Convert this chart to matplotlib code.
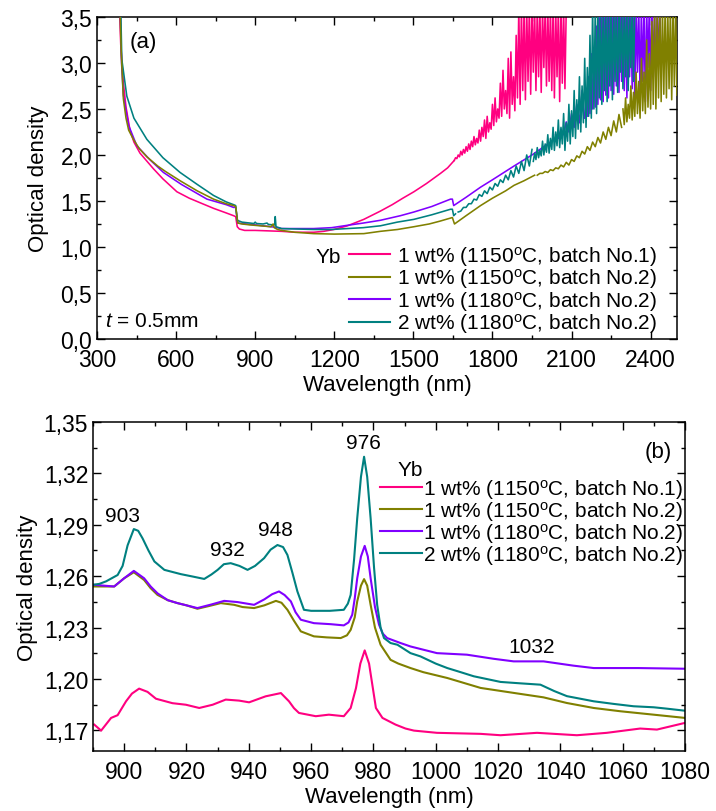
import numpy as np
import matplotlib
matplotlib.use("Agg")
import matplotlib.pyplot as plt
from matplotlib.ticker import MultipleLocator, FuncFormatter
from matplotlib.lines import Line2D

plt.rcParams['font.family'] = ['Liberation Sans', 'DejaVu Sans']
plt.rcParams['mathtext.fontset'] = 'custom'
plt.rcParams['mathtext.rm'] = 'Liberation Sans'
plt.rcParams['mathtext.it'] = 'Liberation Sans:italic'

# ---------------- colours / labels ----------------
series_names = ["1 wt% (1150$^{\\mathregular{o}}$C, batch No.1)",
                "1 wt% (1150$^{\\mathregular{o}}$C, batch No.2)",
                "1 wt% (1180$^{\\mathregular{o}}$C, batch No.2)",
                "2 wt% (1180$^{\\mathregular{o}}$C, batch No.2)"]
colors = ["#FF0080", "#808000", "#8000FF", "#008080"]

# ---------------- panel (a): smooth parts ----------------
a_pink_x = [385, 390, 395, 400, 410, 425, 440, 463, 490, 514, 550, 603, 650, 700, 742, 790, 818, 826,
            832, 840, 860, 900, 950, 1000, 1050, 1122, 1160, 1198, 1250, 1312, 1375, 1420, 1460, 1502,
            1550, 1603, 1630, 1655]
a_pink_y = [3.6, 3.2, 2.98, 2.78, 2.52, 2.27, 2.14, 2.02, 1.93, 1.85, 1.74, 1.60, 1.53, 1.47, 1.42, 1.37, 1.34, 1.33,
            1.22, 1.195, 1.18, 1.18, 1.175, 1.17, 1.16, 1.16, 1.17, 1.19, 1.23, 1.30, 1.39, 1.46, 1.53, 1.60,
            1.69, 1.80, 1.86, 1.94]

a_olive_x = [387, 392, 400, 410, 420, 438, 460, 489, 530, 560, 615, 680, 742, 790, 818, 826, 834, 850,
             880, 900, 940, 960, 968, 972, 985, 1000, 1050, 1122, 1200, 1312, 1375, 1440, 1502, 1560, 1600, 1648,
             1656, 1700, 1755, 1800, 1850, 1882, 1920, 1960]
a_olive_y = [3.6, 3.1, 2.61, 2.40, 2.27, 2.17, 2.07, 1.98, 1.88, 1.82, 1.72, 1.61, 1.52, 1.47, 1.45, 1.44, 1.26, 1.25,
             1.24, 1.235, 1.225, 1.22, 1.25, 1.21, 1.19, 1.18, 1.16, 1.145, 1.14, 1.145, 1.17, 1.19, 1.22, 1.25, 1.28, 1.32,
             1.25, 1.34, 1.45, 1.53, 1.61, 1.67, 1.72, 1.78]

a_purple_x = [388, 393, 400, 420, 451, 500, 552, 620, 717, 790, 818, 826, 834, 880, 900, 945, 975, 1000,
              1122, 1190, 1249, 1310, 1375, 1451, 1502, 1570, 1641, 1648, 1653, 1700, 1755, 1800, 1882, 1950, 2030]
a_purple_y = [3.6, 3.0, 2.65, 2.32, 2.10, 1.95, 1.81, 1.68, 1.52, 1.46, 1.43, 1.43, 1.26, 1.245, 1.24, 1.225, 1.215, 1.20,
              1.20, 1.21, 1.235, 1.26, 1.29, 1.34, 1.38, 1.44, 1.52, 1.52, 1.45, 1.54, 1.65, 1.73, 1.88, 2.00, 2.16]

a_teal_x = [390, 394, 413, 440, 489, 550, 615, 680, 742, 790, 818, 826, 832, 850, 880, 895, 900, 905,
            930, 945, 950, 970, 974, 976, 979, 990, 1000, 1122, 1190, 1249, 1310, 1375, 1439, 1502, 1570, 1641,
            1648, 1653, 1660]
a_teal_y = [3.6, 3.04, 2.64, 2.40, 2.17, 1.97, 1.81, 1.68, 1.56, 1.49, 1.46, 1.45, 1.29, 1.27, 1.26, 1.255, 1.27, 1.255,
            1.25, 1.26, 1.245, 1.24, 1.24, 1.33, 1.22, 1.21, 1.20, 1.19, 1.19, 1.20, 1.21, 1.23, 1.27, 1.30, 1.35, 1.41,
            1.41, 1.34, 1.36]

# ---------------- panel (a): noisy long-wavelength parts (read as zig-zag values) ----------------
a_pink_noise_start, a_pink_noise_step = 1655, 5
a_pink_noise_y = [1.94, 1.97, 1.96, 2.00, 1.98, 2.04, 2.00, 2.06, 2.02, 2.09, 2.04, 2.12, 2.06, 2.15, 2.09,
                  2.20, 2.11, 2.18, 2.13, 2.27, 2.15, 2.30, 2.20, 2.38, 2.18, 2.42, 2.25, 2.35, 2.28, 2.55,
                  2.32, 2.62, 2.36, 2.50, 2.40, 2.78, 2.42, 2.92, 2.50, 2.70, 2.45, 3.05, 2.40, 3.12, 2.55,
                  2.85, 2.48, 3.30, 2.62, 3.60, 2.55, 3.60, 2.70, 3.60, 2.60, 3.60, 2.80, 3.60, 2.66, 3.60,
                  2.90, 3.60, 2.70, 3.60, 2.85, 3.60, 2.68, 3.60, 2.95, 3.60, 2.75, 3.60, 2.80, 3.60, 2.70,
                  3.60, 2.62, 3.60, 2.85, 3.60, 2.58, 3.60, 2.78, 3.60, 2.72, 3.60]

a_teal_noise1_start, a_teal_noise1_step = 1670, 10
a_teal_noise1_y = [1.38, 1.39, 1.43, 1.43, 1.47, 1.47, 1.52, 1.51, 1.57, 1.55, 1.61, 1.58, 1.65, 1.62,
                   1.69, 1.66, 1.73, 1.70, 1.78, 1.73, 1.83, 1.76, 1.88, 1.80, 1.93, 1.83, 2.00, 1.88, 2.06]
a_teal_noise2_start, a_teal_noise2_step = 1955, 5
a_teal_noise2_y = [1.93, 2.02, 1.95, 2.08, 1.97, 2.05, 1.99, 2.15, 2.00, 2.12, 2.03, 2.22, 2.02, 2.18, 2.06,
                   2.30, 2.05, 2.25, 2.10, 2.38, 2.08, 2.30, 2.12, 2.45, 2.05, 2.35, 2.15, 2.55, 2.12, 2.48,
                   2.20, 2.70, 2.18, 2.60, 2.28, 2.85, 2.25, 2.75, 2.35, 3.05, 2.30, 2.95, 2.42, 3.30, 2.40,
                   3.60, 2.50, 3.60, 2.45, 3.60, 2.62, 3.60, 2.55, 3.60, 2.70, 3.60, 2.58, 3.60, 2.75, 3.60,
                   2.60, 3.60, 2.80, 3.60, 2.68, 3.60, 2.90, 3.60, 2.72, 3.60, 2.85, 3.60, 2.70, 3.60, 2.95,
                   3.60, 2.80, 3.60]

a_purple_noise1_start, a_purple_noise1_step = 2040, 10
a_purple_noise1_y = [2.22, 2.18, 2.28, 2.22, 2.36, 2.25, 2.45, 2.30, 2.55, 2.35, 2.70, 2.40]
a_purple_noise2_start, a_purple_noise2_step = 2155, 5
a_purple_noise2_y = [2.62, 2.42, 2.85, 2.45, 3.10, 2.50, 2.95, 2.52, 3.40, 2.55, 3.60, 2.60, 3.60, 2.58, 3.60,
                     2.65, 3.60, 2.62, 3.60, 2.70, 3.60, 2.66, 3.60, 2.75, 3.60, 2.68, 3.60, 2.80, 3.60, 2.70,
                     3.60, 2.62, 3.60, 2.85, 3.60, 2.72, 3.60, 2.60, 3.60, 2.90, 3.60, 2.65, 3.60, 2.80, 3.60,
                     2.58, 3.60, 2.95, 3.60, 2.70, 3.60, 2.85, 3.60, 2.75, 3.60, 3.00, 3.60, 2.90]

a_olive_noise1_start, a_olive_noise1_step = 1970, 10
a_olive_noise1_y = [1.78, 1.80, 1.80, 1.82, 1.81, 1.84, 1.83, 1.86, 1.85, 1.89, 1.87, 1.92, 1.89, 1.95,
                    1.93, 1.99, 1.97, 2.04, 2.01, 2.09, 2.05, 2.14, 2.09, 2.19, 2.13, 2.25, 2.17, 2.30, 2.21,
                    2.37, 2.25, 2.44, 2.30]
a_olive_noise2_start, a_olive_noise2_step = 2295, 5
a_olive_noise2_y = [2.50, 2.33, 2.62, 2.36, 2.55, 2.40, 2.75, 2.38, 2.68, 2.42, 2.90, 2.45, 2.80, 2.40, 3.05,
                    2.48, 2.90, 2.45, 3.25, 2.52, 3.10, 2.50, 3.45, 2.55, 3.60, 2.50, 3.60, 2.62, 3.60, 2.58,
                    3.60, 2.66, 3.60, 2.62, 3.60, 2.72, 3.60, 2.60, 3.60, 2.75, 3.60, 2.65]

# ---------------- panel (b) ----------------
b_pink_x = [890.4, 892.6, 895.8, 897.9, 900.6, 902.5, 904.8, 907.5, 910.2, 915.5, 919.8, 924.1, 928.4, 932.6,
            936.9, 940.1, 945.4, 950.3, 952.9, 954.5, 956.1, 961.5, 965.7, 970.5, 972.7, 974.4, 975.8, 977.2,
            978.6, 980.8, 982.9, 987.1, 990.3, 993, 1000.4, 1014.4, 1020.8, 1032.5, 1045.3, 1054.9, 1065.6,
            1071, 1080]
b_pink_y = [1.1734, 1.1699, 1.1773, 1.1789, 1.187, 1.1915, 1.1944, 1.1925, 1.1885, 1.1859, 1.185, 1.1831, 1.185,
            1.188, 1.1874, 1.1864, 1.1899, 1.1918, 1.187, 1.183, 1.1802, 1.1783, 1.1792, 1.1783, 1.1831, 1.1947,
            1.209, 1.2167, 1.209, 1.1831, 1.1773, 1.1734, 1.1711, 1.1699, 1.1686, 1.168, 1.1672, 1.1686, 1.1672,
            1.1686, 1.1711, 1.1705, 1.1744]

b_olive_x = [890, 896.8, 900, 903.1, 906.4, 908.5, 910.7, 914, 917.1, 920, 923.5, 927, 931, 935.3, 938, 941.7,
             945, 948.7, 950.5, 952.4, 954.5, 956.7, 960.9, 965, 969.5, 971.5, 972.7, 974, 974.8, 976, 977,
             978, 979.1, 980.5, 982.3, 985.5, 988, 991.9, 996, 1003.7, 1014.4, 1027.2, 1034.6, 1042.1, 1050.7,
             1059.2, 1069.9, 1080]
b_olive_y = [1.254, 1.254, 1.2588, 1.2623, 1.2578, 1.253, 1.2491, 1.246, 1.2443, 1.243, 1.241, 1.2425, 1.2443,
             1.2433, 1.242, 1.2414, 1.243, 1.2456, 1.2445, 1.2404, 1.234, 1.2278, 1.2249, 1.2243, 1.2239, 1.2255,
             1.2287, 1.236, 1.2453, 1.2545, 1.2583, 1.2545, 1.2433, 1.23, 1.22, 1.2112, 1.209, 1.2064, 1.204,
             1.2006, 1.1948, 1.1913, 1.1893, 1.186, 1.1831, 1.1812, 1.1792, 1.1773]

b_purple_x = [890, 896.8, 900, 903.1, 906.4, 908.5, 910.7, 914, 917.1, 920, 923.5, 928, 932.1, 936.4, 941.7,
              945, 947.5, 949.7, 951.5, 953.5, 955, 956.7, 960.9, 966.3, 970.5, 972, 973.2, 974, 974.8, 976,
              977.2, 978.2, 979.1, 980.5, 981.8, 983, 984.4, 988.7, 991.9, 1000.4, 1010, 1018.6, 1025, 1034.6,
              1044.2, 1050.7, 1065, 1080]
b_purple_y = [1.255, 1.254, 1.2588, 1.2631, 1.2588, 1.254, 1.25, 1.246, 1.2443, 1.243, 1.2414, 1.2435, 1.2456,
              1.2449, 1.2433, 1.2465, 1.2495, 1.2511, 1.249, 1.2453, 1.239, 1.2346, 1.2326, 1.232, 1.2313, 1.233,
              1.2375, 1.247, 1.2588, 1.2715, 1.2777, 1.2715, 1.2588, 1.242, 1.2317, 1.2265, 1.2239, 1.221, 1.219,
              1.2151, 1.2142, 1.2118, 1.2103, 1.2103, 1.2078, 1.2064, 1.2064, 1.206]

b_teal_x = [890, 892, 894.2, 897.9, 899.5, 901.1, 903.1, 904.5, 905.9, 907.8, 909.7, 912.9, 918.2, 922, 925.7,
            928, 930, 932, 934.2, 937, 939.6, 942, 944.9, 947, 949.2, 951, 952.4, 954, 955.6, 957.7, 960, 963.1,
            966, 970.5, 971.8, 972.7, 973.8, 974.8, 976, 977, 978, 979.1, 980.2, 981.2, 982.3, 983.4, 985.5,
            987.7, 991.9, 995.1, 1000, 1003.7, 1008, 1012.2, 1020.8, 1027, 1033.6, 1038, 1042.1, 1050.7, 1057,
            1063.5, 1070, 1074.2, 1080]
b_teal_y = [1.255, 1.2555, 1.257, 1.2607, 1.266, 1.278, 1.2875, 1.2865, 1.2821, 1.275, 1.2686, 1.2637, 1.2612,
            1.2598, 1.2584, 1.261, 1.2637, 1.267, 1.2676, 1.266, 1.2637, 1.266, 1.2705, 1.2755, 1.2782, 1.277,
            1.2724, 1.262, 1.2511, 1.2404, 1.2398, 1.2398, 1.2398, 1.2404, 1.244, 1.2491, 1.27, 1.2938, 1.318,
            1.3297, 1.318, 1.2938, 1.265, 1.2433, 1.23, 1.2239, 1.221, 1.22, 1.2151, 1.2132, 1.209, 1.2064, 1.204,
            1.2016, 1.1983, 1.1975, 1.1967, 1.193, 1.19, 1.187, 1.1855, 1.1841, 1.1835, 1.1827, 1.1815]

peak_labels = ["903", "932", "948", "976", "1032"]
peak_label_x = [899.6, 933.2, 948.7, 976.9, 1030.9]
peak_label_y = [1.2955, 1.2753, 1.287, 1.338, 1.219]

a_xticks = [300, 600, 900, 1200, 1500, 1800, 2100, 2400]
a_yticks = [0.0, 0.5, 1.0, 1.5, 2.0, 2.5, 3.0, 3.5]
b_xticks = [900, 920, 940, 960, 980, 1000, 1020, 1040, 1060, 1080]
b_yticks = [1.17, 1.20, 1.23, 1.26, 1.29, 1.32, 1.35]


def grid(start, step, values):
    """Wavelength grid on which a read-off noisy segment was sampled."""
    return [start + step * i for i in range(len(values))]


# ---------------- figure ----------------
fig = plt.figure(figsize=(7.16, 8.12), dpi=100)
axa = fig.add_axes([0.1355, 0.5813, 0.810, 0.3966])
axb = fig.add_axes([0.1299, 0.0739, 0.8268, 0.4052])

lwa = 1.15
axa.plot(a_pink_x, a_pink_y, color=colors[0], lw=lwa, zorder=2)
axa.plot(grid(a_pink_noise_start, a_pink_noise_step, a_pink_noise_y), a_pink_noise_y,
         color=colors[0], lw=lwa, zorder=2)
axa.plot(a_purple_x, a_purple_y, color=colors[2], lw=lwa, zorder=3)
axa.plot(grid(a_purple_noise1_start, a_purple_noise1_step, a_purple_noise1_y), a_purple_noise1_y,
         color=colors[2], lw=lwa, zorder=3)
axa.plot(grid(a_purple_noise2_start, a_purple_noise2_step, a_purple_noise2_y), a_purple_noise2_y,
         color=colors[2], lw=lwa, zorder=3)
axa.plot(a_teal_x, a_teal_y, color=colors[3], lw=lwa, zorder=4)
axa.plot(grid(a_teal_noise1_start, a_teal_noise1_step, a_teal_noise1_y), a_teal_noise1_y,
         color=colors[3], lw=lwa, zorder=4)
axa.plot(grid(a_teal_noise2_start, a_teal_noise2_step, a_teal_noise2_y), a_teal_noise2_y,
         color=colors[3], lw=lwa, zorder=4)
axa.plot(a_olive_x, a_olive_y, color=colors[1], lw=lwa, zorder=5)
axa.plot(grid(a_olive_noise1_start, a_olive_noise1_step, a_olive_noise1_y), a_olive_noise1_y,
         color=colors[1], lw=lwa, zorder=5)
axa.plot(grid(a_olive_noise2_start, a_olive_noise2_step, a_olive_noise2_y), a_olive_noise2_y,
         color=colors[1], lw=lwa, zorder=5)

lwb = 1.5
axb.plot(b_pink_x, b_pink_y, color=colors[0], lw=lwb)
axb.plot(b_olive_x, b_olive_y, color=colors[1], lw=lwb)
axb.plot(b_purple_x, b_purple_y, color=colors[2], lw=lwb)
axb.plot(b_teal_x, b_teal_y, color=colors[3], lw=lwb)

comma = FuncFormatter(lambda v, p: ("%.1f" % v).replace('.', ','))
comma2 = FuncFormatter(lambda v, p: ("%.2f" % v).replace('.', ','))

for ax in (axa, axb):
    ax.tick_params(which='both', direction='in', top=True, right=True, labelsize=16.5, width=1.0)
    ax.tick_params(which='major', length=6)
    ax.tick_params(which='minor', length=3)
    ax.tick_params(axis='x', pad=6.5)
    for s in ax.spines.values():
        s.set_linewidth(1.1)
    ax.set_xlabel("Wavelength (nm)", fontsize=16, labelpad=2)

axa.set_ylabel("Optical density", fontsize=16, labelpad=8)
axb.set_ylabel("Optical density", fontsize=16, labelpad=4)

axa.set_xlim(300, 2500)
axa.set_ylim(0, 3.5)
axa.set_xticks(a_xticks)
axa.set_yticks(a_yticks)
axa.xaxis.set_minor_locator(MultipleLocator(150))
axa.yaxis.set_minor_locator(MultipleLocator(0.25))
axa.yaxis.set_major_formatter(comma)

axb.set_xlim(890, 1080)
axb.set_ylim(1.158, 1.35)
axb.set_xticks(b_xticks)
axb.set_yticks(b_yticks)
axb.xaxis.set_minor_locator(MultipleLocator(10))
axb.yaxis.set_minor_locator(MultipleLocator(0.015))
axb.yaxis.set_major_formatter(comma2)

handles = [Line2D([], [], color=c, lw=1.5) for c in colors]

lega = axa.legend(handles, series_names, loc='upper left', bbox_to_anchor=(0.434, 0.296),
                  frameon=False, fontsize=15, handlelength=2.0, handletextpad=0.3,
                  labelspacing=-0.07, borderpad=0, borderaxespad=0)
axa.text(0.376, 0.257, "Yb", transform=axa.transAxes, fontsize=15, va='center', ha='left')
axa.text(0.014, 0.056, "$t$ = 0.5mm", transform=axa.transAxes, fontsize=15, va='center', ha='left')
axa.text(0.057, 0.925, "(a)", transform=axa.transAxes, fontsize=16, va='center', ha='left')

legb = axb.legend(handles, series_names, loc='upper left', bbox_to_anchor=(0.485, 0.833),
                  frameon=False, fontsize=15, handlelength=2.0, handletextpad=0.05,
                  labelspacing=-0.1, borderpad=0, borderaxespad=0)
axb.text(0.515, 0.857, "Yb", transform=axb.transAxes, fontsize=15, va='center', ha='left')
axb.text(0.978, 0.909, "(b)", transform=axb.transAxes, fontsize=16, va='center', ha='right')

for lab, lx, ly in zip(peak_labels, peak_label_x, peak_label_y):
    axb.text(lx, ly, lab, fontsize=15, ha='center', va='center')

fig.savefig("out.png", dpi=100)
